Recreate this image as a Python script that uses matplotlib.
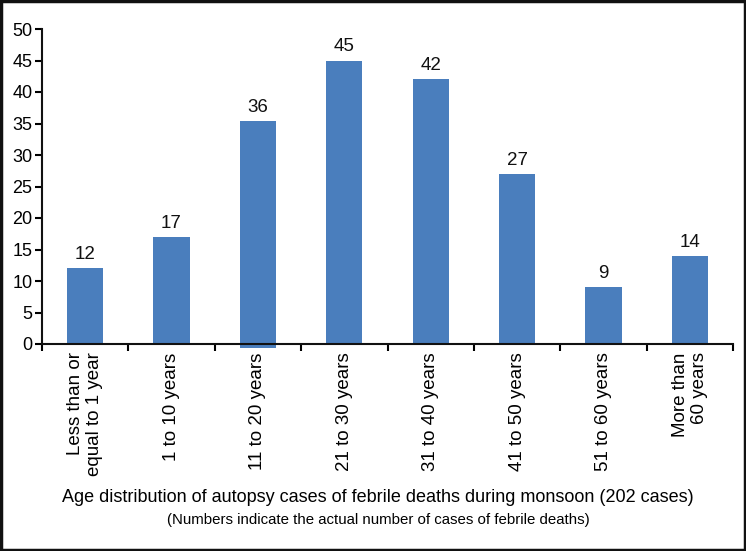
import matplotlib
matplotlib.use("Agg")
import matplotlib.pyplot as plt
from matplotlib.patches import Rectangle

categories = ["Less than or\nequal to 1 year", "1 to 10 years", "11 to 20 years",
              "21 to 30 years", "31 to 40 years", "41 to 50 years",
              "51 to 60 years", "More than\n60 years"]
counts = [12, 17, 36, 45, 42, 27, 9, 14]
bar_offsets = [0, 0, -0.6, 0, 0, 0, 0, 0]
y_ticks = list(range(0, 51, 5))

plt.rcParams['font.family'] = ['Liberation Sans', 'DejaVu Sans']

fig = plt.figure(figsize=(7.46, 5.51), dpi=100)
ax = fig.add_axes([42/746, 1-344/551, (733-42)/746, (344-29)/551])

x = list(range(len(categories)))
bars = ax.bar(x, counts, bottom=bar_offsets, width=0.42, color='#4a7ebd', zorder=1)
for b in bars:
    b.set_clip_on(False)
for xi, c, b in zip(x, counts, bar_offsets):
    ax.text(xi, c + b + 0.8, str(c), ha='center', va='bottom', fontsize=13.5, color='#111111')

ax.set_xlim(-0.5, len(categories) - 0.5)
ax.set_ylim(0, 50)
ax.set_yticks(y_ticks)
ax.tick_params(axis='y', labelsize=13, length=5, width=1.5, direction='out', pad=2)

ax.set_xticks([i - 0.5 for i in range(len(categories) + 1)])
ax.set_xticklabels([])
ax.tick_params(axis='x', length=5, width=1.5, direction='out')
ax.set_xticks(x, minor=True)
ax.set_xticklabels(categories, minor=True, rotation=90, ha='center', va='top',
                   multialignment='right', fontsize=13.5)
ax.tick_params(axis='x', which='minor', length=0, pad=6)

for s in ['top', 'right']:
    ax.spines[s].set_visible(False)
for s in ['left', 'bottom']:
    ax.spines[s].set_linewidth(1.5)
    ax.spines[s].set_color('#111111')
ax.spines['bottom'].set_zorder(3)

fig.text(378/746, 1-498/551, "Age distribution of autopsy cases of febrile deaths during monsoon (202 cases)",
         ha='center', va='center', fontsize=13)
fig.text(378/746, 1-520/551, "(Numbers indicate the actual number of cases of febrile deaths)",
         ha='center', va='center', fontsize=10.8)

fig.patches.append(Rectangle((0.002, 0.002), 0.996, 0.996, transform=fig.transFigure,
                             fill=False, edgecolor='#111111', linewidth=2.5))

fig.savefig("out.png", dpi=100)
